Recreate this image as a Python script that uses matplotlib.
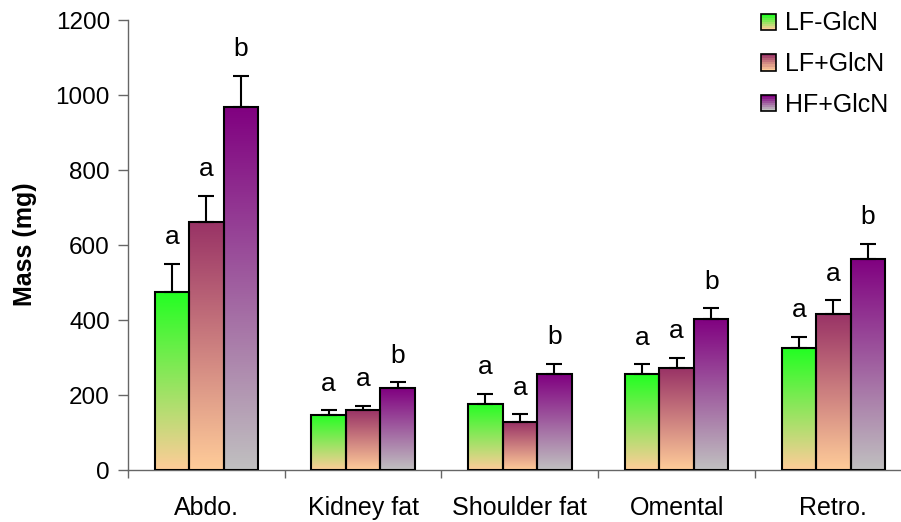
import numpy as np
import matplotlib
matplotlib.use('Agg')
import matplotlib.pyplot as plt
from matplotlib.colors import LinearSegmentedColormap
from matplotlib.legend_handler import HandlerBase
from matplotlib.patches import Rectangle, Patch

plt.rcParams['font.family'] = ['Liberation Sans', 'DejaVu Sans']

# Fat pad masses per group
depots = ['Abdo.', 'Kidney fat', 'Shoulder fat', 'Omental', 'Retro.']
series = ['LF-GlcN', 'LF+GlcN', 'HF+GlcN']
lf_minus = [475, 148, 177, 255, 325]
lf_minus_err = [75, 12, 26, 27, 31]
lf_plus = [661, 160, 127, 271, 415]
lf_plus_err = [70, 11, 22, 29, 38]
hf_plus = [969, 218, 255, 403, 564]
hf_plus_err = [82, 16, 28, 28, 39]
letters = [['a'] * 5, ['a'] * 5, ['b'] * 5]

values = [lf_minus, lf_plus, hf_plus]
errors = [lf_minus_err, lf_plus_err, hf_plus_err]

# gradient (bottom colour, top colour) for each series
grads = [('#FFCC99', '#22FF22'), ('#FFCC99', '#993366'), ('#C0C0C0', '#800080')]
cmaps = [LinearSegmentedColormap.from_list('g%d' % i, g) for i, g in enumerate(grads)]

FS = 17.5


class GradientHandler(HandlerBase):
    def __init__(self, cmap, n=8):
        super().__init__()
        self.cmap = cmap
        self.n = n

    def create_artists(self, legend, orig_handle, xdescent, ydescent,
                       width, height, fontsize, trans):
        arts = []
        h = height / self.n
        for i in range(self.n):
            r = Rectangle((-xdescent, -ydescent + i * h), width, h,
                          facecolor=self.cmap(i / (self.n - 1)),
                          edgecolor='none', transform=trans)
            arts.append(r)
        arts.append(Rectangle((-xdescent, -ydescent), width, height,
                              fill=False, edgecolor='black', lw=1.2,
                              transform=trans))
        return arts


fig = plt.figure(figsize=(9.01, 5.22), dpi=100)
ax = fig.add_axes([0.142, 0.0996, 0.870, 0.862])

x = np.arange(len(depots))
w = 0.22
grad = np.linspace(0, 1, 256).reshape(-1, 1)

for i in range(3):
    pos = x + (i - 1) * w
    bars = ax.bar(pos, values[i], w, facecolor='none', edgecolor='black',
                  linewidth=1.5, zorder=3)
    for b in bars:
        ax.imshow(grad, cmap=cmaps[i], origin='lower', aspect='auto',
                  extent=[b.get_x(), b.get_x() + b.get_width(), 0, b.get_height()],
                  zorder=2, interpolation='bicubic')
    ax.errorbar(pos, values[i], yerr=[np.zeros(5), errors[i]], fmt='none',
                ecolor='black', elinewidth=1.5, capsize=6, capthick=1.5, zorder=4)
    for p, v, e, t in zip(pos, values[i], errors[i], letters[i]):
        ax.annotate(t, (p, v + e), xytext=(0, 14), textcoords='offset points',
                    ha='center', va='baseline', fontsize=19)

ax.set_xlim(-0.5, 4.5)
ax.set_ylim(0, 1200)
ax.set_yticks(range(0, 1201, 200))
ax.tick_params(axis='y', labelsize=FS, length=7, width=1, color='#666666', pad=6)

ax.set_xticks(np.arange(-0.5, 5, 1))
ax.set_xticklabels([])
ax.set_xticks(x, minor=True)
ax.set_xticklabels(depots, minor=True)
ax.tick_params(axis='x', which='major', length=6, width=1, color='#666666')
ax.tick_params(axis='x', which='minor', length=0, labelsize=FS + 0.5, pad=19)

for s in ['top', 'right']:
    ax.spines[s].set_visible(False)
for s in ['left', 'bottom']:
    ax.spines[s].set_color('#666666')
    ax.spines[s].set_linewidth(1)

fig.text(25 / 901, 1 - 244 / 522, 'Mass (mg)', rotation=90, ha='center',
         va='center', fontsize=FS + 0.5, fontweight='bold')

handles = [Patch(label=s) for s in series]
fig.legend(handles=handles, labels=series, loc='upper left',
           bbox_to_anchor=(738 / 901, 1 + 11 / 522), frameon=False, fontsize=FS + 0.5,
           handlelength=0.62, handleheight=0.62, handletextpad=0.37,
           labelspacing=0.67,
           handler_map={h: GradientHandler(c) for h, c in zip(handles, cmaps)})

fig.savefig('out.png', dpi=100)
